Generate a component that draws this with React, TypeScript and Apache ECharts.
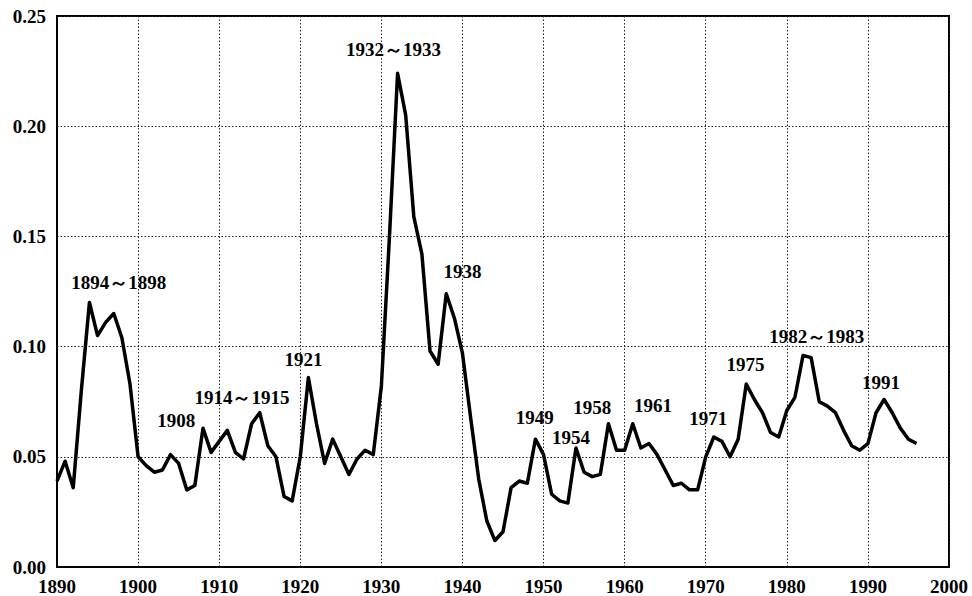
import React, { useEffect, useRef } from "react";
import * as echarts from "echarts";

const startYear = 1890;
const values: number[] = [
  0.039, 0.048, 0.036, 0.080, 0.120, 0.105, 0.111, 0.115, 0.104, 0.083, // 1890-1899
  0.050, 0.046, 0.043, 0.044, 0.051, 0.047, 0.035, 0.037, 0.063, 0.052, // 1900-1909
  0.057, 0.062, 0.052, 0.049, 0.065, 0.070, 0.055, 0.050, 0.032, 0.030, // 1910-1919
  0.050, 0.086, 0.065, 0.047, 0.058, 0.050, 0.042, 0.049, 0.053, 0.051, // 1920-1929
  0.082, 0.150, 0.224, 0.205, 0.159, 0.142, 0.098, 0.092, 0.124, 0.113, // 1930-1939
  0.097, 0.068, 0.040, 0.021, 0.012, 0.016, 0.036, 0.039, 0.038, 0.058, // 1940-1949
  0.051, 0.033, 0.030, 0.029, 0.054, 0.043, 0.041, 0.042, 0.065, 0.053, // 1950-1959
  0.053, 0.065, 0.054, 0.056, 0.051, 0.044, 0.037, 0.038, 0.035, 0.035, // 1960-1969
  0.050, 0.059, 0.057, 0.050, 0.058, 0.083, 0.076, 0.070, 0.061, 0.059, // 1970-1979
  0.071, 0.077, 0.096, 0.095, 0.075, 0.073, 0.070, 0.062, 0.055, 0.053, // 1980-1989
  0.056, 0.070, 0.076, 0.070, 0.063, 0.058, 0.056, // 1990-1996
];
const years: number[] = values.map((_, i) => startYear + i);

const annotationTexts: string[] = [
  "1894～1898", "1908", "1914～1915", "1921", "1932～1933", "1938", "1949",
  "1954", "1958", "1961", "1971", "1975", "1982～1983", "1991",
];
const annotationX: number[] = [
  1897.6, 1904.7, 1912.8, 1920.4, 1931.5, 1940.0, 1948.9,
  1953.4, 1956.0, 1963.5, 1970.3, 1974.9, 1983.7, 1991.6,
];
const annotationY: number[] = [
  0.129, 0.0666, 0.077, 0.0942, 0.235, 0.134, 0.068,
  0.0589, 0.0725, 0.0734, 0.0675, 0.0919, 0.1046, 0.0838,
];

const xMin = 1890, xMax = 2000, xInterval = 10;
const yMin = 0, yMax = 0.25, yInterval = 0.05;

const FONT = "'Liberation Serif', 'Times New Roman', serif";

export default function App() {
  const ref = useRef<HTMLDivElement>(null);
  useEffect(() => {
    if (!ref.current) return;
    const chart = echarts.init(ref.current, null, { renderer: "svg" });
    const gridLine = { show: true, lineStyle: { color: "#222", width: 1, type: [1.5, 2] as any } };
    chart.setOption({
      animation: false,
      backgroundColor: "#fff",
      grid: { left: 57, right: 23, top: 16, bottom: 29, show: true, borderColor: "#000", borderWidth: 2, backgroundColor: "transparent" },
      xAxis: {
        type: "value", min: xMin, max: xMax, interval: xInterval,
        axisLine: { show: true, lineStyle: { color: "#000", width: 2 } },
        axisTick: { show: false },
        splitLine: gridLine,
        axisLabel: { color: "#000", fontFamily: FONT, fontSize: 19, fontWeight: "bold", margin: 10, formatter: (v: number) => String(v) },
      },
      yAxis: {
        type: "value", min: yMin, max: yMax, interval: yInterval,
        axisLine: { show: true, lineStyle: { color: "#000", width: 2 } },
        axisTick: { show: false },
        splitLine: gridLine,
        axisLabel: { color: "#000", fontFamily: FONT, fontSize: 19, fontWeight: "bold", margin: 11, formatter: (v: number) => v.toFixed(2) },
      },
      series: [
        {
          type: "line",
          data: years.map((y, i) => [y, values[i]]),
          symbol: "none",
          lineStyle: { color: "#000", width: 3.5, join: "round" },
          silent: true,
        },
        {
          type: "scatter",
          silent: true,
          symbolSize: 0,
          itemStyle: { color: "#000" },
          data: annotationTexts.map((t, i) => ({ name: t, value: [annotationX[i], annotationY[i]] })),
          label: {
            show: true, position: "inside", formatter: (p: any) => p.name,
            color: "#000", opacity: 1, fontFamily: FONT, fontSize: 19, fontWeight: "bold",
            textBorderWidth: 0,
          },
          labelLayout: { hideOverlap: false },
        },
      ],
    });
    return () => chart.dispose();
  }, []);
  return <div ref={ref} style={{ position: "absolute", left: 0, top: 0, width: 972, height: 596 }} />;
}
